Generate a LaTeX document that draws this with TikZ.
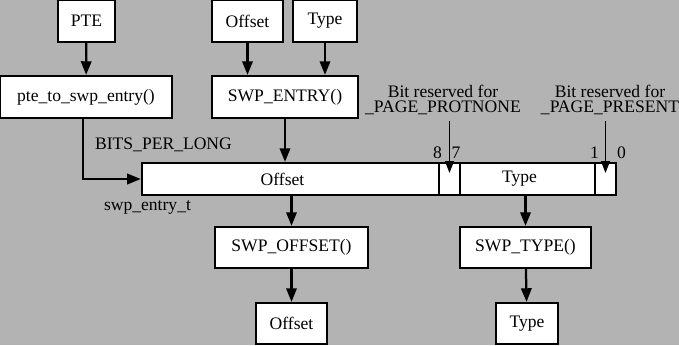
\documentclass[tikz,border=0pt]{standalone}
\usepackage{fontspec}
\setmainfont{Liberation Serif}
\definecolor{bggray}{RGB}{179,179,179}
\usetikzlibrary{arrows.meta,positioning,calc}

\begin{document}
\begin{tikzpicture}[x=0.025cm, y=-0.025cm,
  box/.style={draw=black, fill=white, line width=1.6pt, minimum height=1.05cm, inner sep=0pt, font=\fontsize{12.5}{14}\selectfont},
  seg/.style={draw=black, fill=white, line width=1.6pt, minimum height=0.8cm, inner sep=0pt, font=\fontsize{12.5}{14}\selectfont},
  arr/.style={line width=1.6pt, -{Triangle[length=3.4mm,width=2.6mm]}},
  bitarr/.style={line width=1.3pt, -{Triangle[length=3mm,width=2.2mm]}},
  lbl/.style={font=\fontsize{12.5}{11}\selectfont, align=center, inner sep=0pt}]
  \fill[bggray] (0,0) rectangle (679,345);
  \useasboundingbox (0,0) rectangle (679,345);
  % inputs
  \node[box, minimum width=1.425cm] (pte) at (86.5,21) {PTE};
  \node[box, minimum width=4.3cm] (ptefn) at (86,97) {pte\_to\_swp\_entry()};
  \node[box, minimum width=1.775cm] (offin) at (247.5,21) {Offset};
  \node[box, minimum width=1.6cm] (typein) at (325,21) {Type};
  \node[box, minimum width=3.65cm] (swpentry) at (285,97) {SWP\_ENTRY()};
  % the swp_entry_t word
  \node[seg, minimum width=7.425cm] (offseg) at (290.5,179) {\hspace*{-0.4cm}Offset};
  \node[seg, minimum width=0.525cm] (pnseg) at (449.5,179) {};
  \node[seg, minimum width=3.375cm] (typeseg) at (527.5,179) {\hspace*{-0.4cm}Type};
  \node[seg, minimum width=0.525cm] (prseg) at (605.5,179) {};
  \node[lbl] (bpl) at (163.5,145) {BITS\_PER\_LONG};
  \node[lbl] (entryt) at (147.5,207) {swp\_entry\_t};
  \node[lbl] (pnlbl) at (443,100) {Bit reserved for\\\_PAGE\_PROTNONE};
  \node[lbl] (prlbl) at (610,100) {Bit reserved for\\\_PAGE\_PRESENT};
  \node[lbl] (b8) at (437.5,153) {8};
  \node[lbl] (b7) at (456,153) {7};
  \node[lbl] (b1) at (594.5,153) {1};
  \node[lbl] (b0) at (621.5,153) {0};
  % outputs
  \node[box, minimum width=3.825cm, minimum height=1.025cm] (swpoff) at (291.5,247.5) {SWP\_OFFSET()};
  \node[box, minimum width=3.275cm, minimum height=1.025cm] (swptype) at (525.5,247.5) {SWP\_TYPE()};
  \node[box, minimum width=1.775cm, minimum height=1.025cm] (offout) at (291.5,323.5) {Offset};
  \node[box, minimum width=1.55cm, minimum height=1.025cm] (typeout) at (527,323.5) {Type};
  % connectors
  \draw[arr] (pte) -- (ptefn);
  \draw[arr] ([xshift=-0.075cm]ptefn.south) |- (offseg.west);
  \draw[arr] (offin) -- (offin |- swpentry.north);
  \draw[arr] (typein) -- (typein |- swpentry.north);
  \draw[arr] (swpentry) -- (swpentry.south |- offseg.north);
  \draw[arr] (swpoff.north |- offseg.south) -- (swpoff);
  \draw[arr] (swptype.north |- typeseg.south) -- (swptype);
  \draw[arr] (swpoff) -- (offout);
  \draw[arr] (swptype) -- (typeout);
  \draw[bitarr] (pnseg |- pnlbl.south) ++(0,6) -- ([yshift=0.15cm]pnseg.center);
  \draw[bitarr] (prseg |- prlbl.south) ++(0,6) -- ([yshift=0.15cm]prseg.center);
\end{tikzpicture}
\end{document}
